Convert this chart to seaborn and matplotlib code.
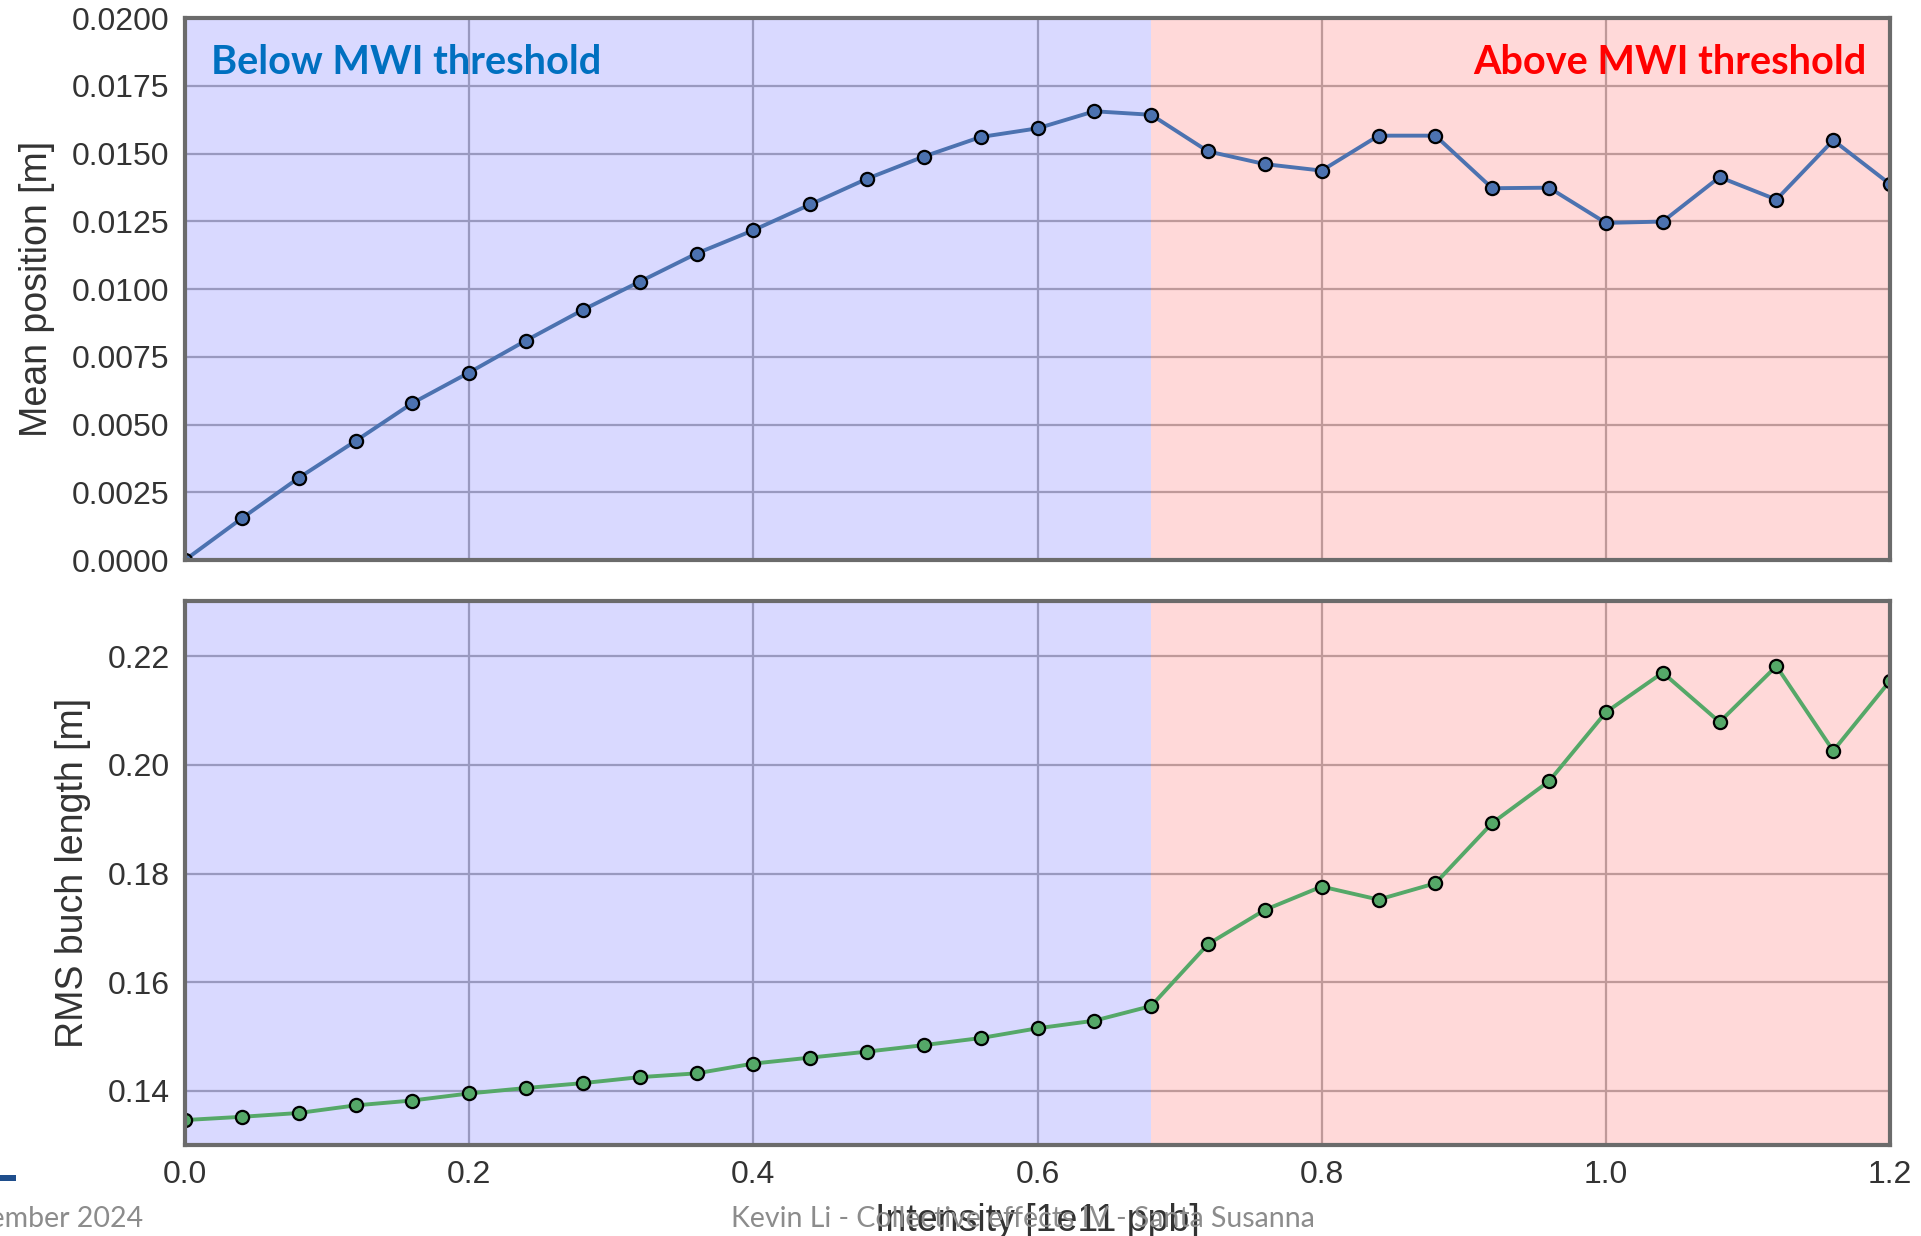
import matplotlib
matplotlib.use("Agg")
import matplotlib.pyplot as plt
import numpy as np
import pandas as pd
import seaborn as sns
from matplotlib.patches import Rectangle

# intensity scan [1e11 ppb]
intensity = [0.00, 0.04, 0.08, 0.12, 0.16, 0.20, 0.24, 0.28, 0.32, 0.36,
             0.40, 0.44, 0.48, 0.52, 0.56, 0.60, 0.64, 0.68, 0.72, 0.76,
             0.80, 0.84, 0.88, 0.92, 0.96, 1.00, 1.04, 1.08, 1.12, 1.16, 1.20]

mean_position = [0.00000, 0.00154, 0.00303, 0.00439, 0.00579, 0.00692, 0.00810, 0.00923,
                 0.01027, 0.01131, 0.01217, 0.01312, 0.01407, 0.01489, 0.01561, 0.01593,
                 0.01656, 0.01643, 0.01508, 0.01461, 0.01437, 0.01566, 0.01566, 0.01372,
                 0.01374, 0.01244, 0.01249, 0.01413, 0.01330, 0.01549, 0.01387]

rms_length = [0.1346, 0.1352, 0.1359, 0.1373, 0.1382, 0.1395, 0.1405, 0.1414,
              0.1425, 0.1432, 0.1450, 0.1461, 0.1472, 0.1484, 0.1497, 0.1515,
              0.1529, 0.1556, 0.1670, 0.1733, 0.1776, 0.1752, 0.1782, 0.1893,
              0.1970, 0.2097, 0.2170, 0.2079, 0.2182, 0.2026, 0.2155]

mwi_threshold = 0.68
x_range = (0.0, 1.2)

df = pd.DataFrame({"intensity": intensity, "mean": mean_position, "rms": rms_length})

sns.set_theme(style="whitegrid")
plt.rcParams["font.family"] = ["Liberation Sans", "DejaVu Sans"]
plt.rcParams["text.color"] = "#333333"
plt.rcParams["axes.labelcolor"] = "#333333"
plt.rcParams["xtick.color"] = "#333333"
plt.rcParams["ytick.color"] = "#333333"

fig = plt.figure(figsize=(19.21, 12.36), dpi=100)
ax1 = fig.add_axes([0.0963, 0.5469, 0.8876, 0.4385])
ax2 = fig.add_axes([0.0963, 0.0736, 0.8876, 0.4402])


def style_axis(ax):
    # shaded regions sit over the grid, under the data
    ax.axvspan(x_range[0], mwi_threshold, color="blue", alpha=0.15, lw=0, zorder=1.5)
    ax.axvspan(mwi_threshold, x_range[1], color="red", alpha=0.15, lw=0, zorder=1.5)
    ax.set_xlim(*x_range)
    ax.set_xticks([0.0, 0.2, 0.4, 0.6, 0.8, 1.0, 1.2])
    ax.set_axisbelow(True)
    ax.grid(True, color="#b4b4b4", lw=1.6)
    for s in ax.spines.values():
        s.set_color("#6b6b6b")
        s.set_linewidth(3)
        s.set_zorder(4)
    ax.tick_params(axis="both", labelsize=23, length=0, pad=11)


sns.lineplot(data=df, x="intensity", y="mean", ax=ax1, color="#4c72b0", lw=2.8,
             marker="o", markersize=9.5, markeredgecolor="black", markeredgewidth=1.6, zorder=3)
style_axis(ax1)
ax1.set_ylim(0, 0.02)
ax1.set_yticks([0.0, 0.0025, 0.005, 0.0075, 0.01, 0.0125, 0.015, 0.0175, 0.02])
ax1.set_yticklabels([f"{v:.4f}" for v in ax1.get_yticks()])
ax1.set_xticklabels([])
ax1.set_xlabel("")
ax1.set_ylabel("Mean position [m]", fontsize=27, labelpad=12)

ax1.text(0.0155, 0.918, "Below MWI threshold", transform=ax1.transAxes, ha="left", va="center",
         fontsize=28.5, fontweight="bold", color="#0070c0", family=["Lato", "DejaVu Sans"])
ax1.text(0.986, 0.918, "Above MWI threshold", transform=ax1.transAxes, ha="right", va="center",
         fontsize=28.5, fontweight="bold", color="#ff0000", family=["Lato", "DejaVu Sans"])

sns.lineplot(data=df, x="intensity", y="rms", ax=ax2, color="#55a868", lw=2.8,
             marker="o", markersize=9.5, markeredgecolor="black", markeredgewidth=1.6, zorder=3)
style_axis(ax2)
ax2.set_ylim(0.13, 0.2302)
ax2.set_yticks([0.14, 0.16, 0.18, 0.20, 0.22])
ax2.set_yticklabels([f"{v:.2f}" for v in ax2.get_yticks()])
ax2.set_xticklabels([f"{v:.1f}" for v in ax2.get_xticks()])
ax2.set_ylabel("RMS buch length [m]", fontsize=27, labelpad=12)
ax2.set_xlabel("Intensity [1e11 ppb]", fontsize=27, labelpad=9)

# slide footer overlapping the chart
fig.text(143 / 1921, 1 - 1219 / 1236, "September 2024", ha="right", va="center",
         fontsize=20.5, color="#8c8c8c", family=["Lato", "DejaVu Sans"])
fig.text(1023 / 1921, 1 - 1219 / 1236, "Kevin Li - Collective effects IV - Santa Susanna",
         ha="center", va="center", fontsize=20.5, color="#8c8c8c", family=["Lato", "DejaVu Sans"])
fig.patches.append(Rectangle((0, 1 - 1181 / 1236), 16 / 1921, 6 / 1236,
                             transform=fig.transFigure, color="#1f4e8c", lw=0))

fig.savefig("out.png", dpi=100)
